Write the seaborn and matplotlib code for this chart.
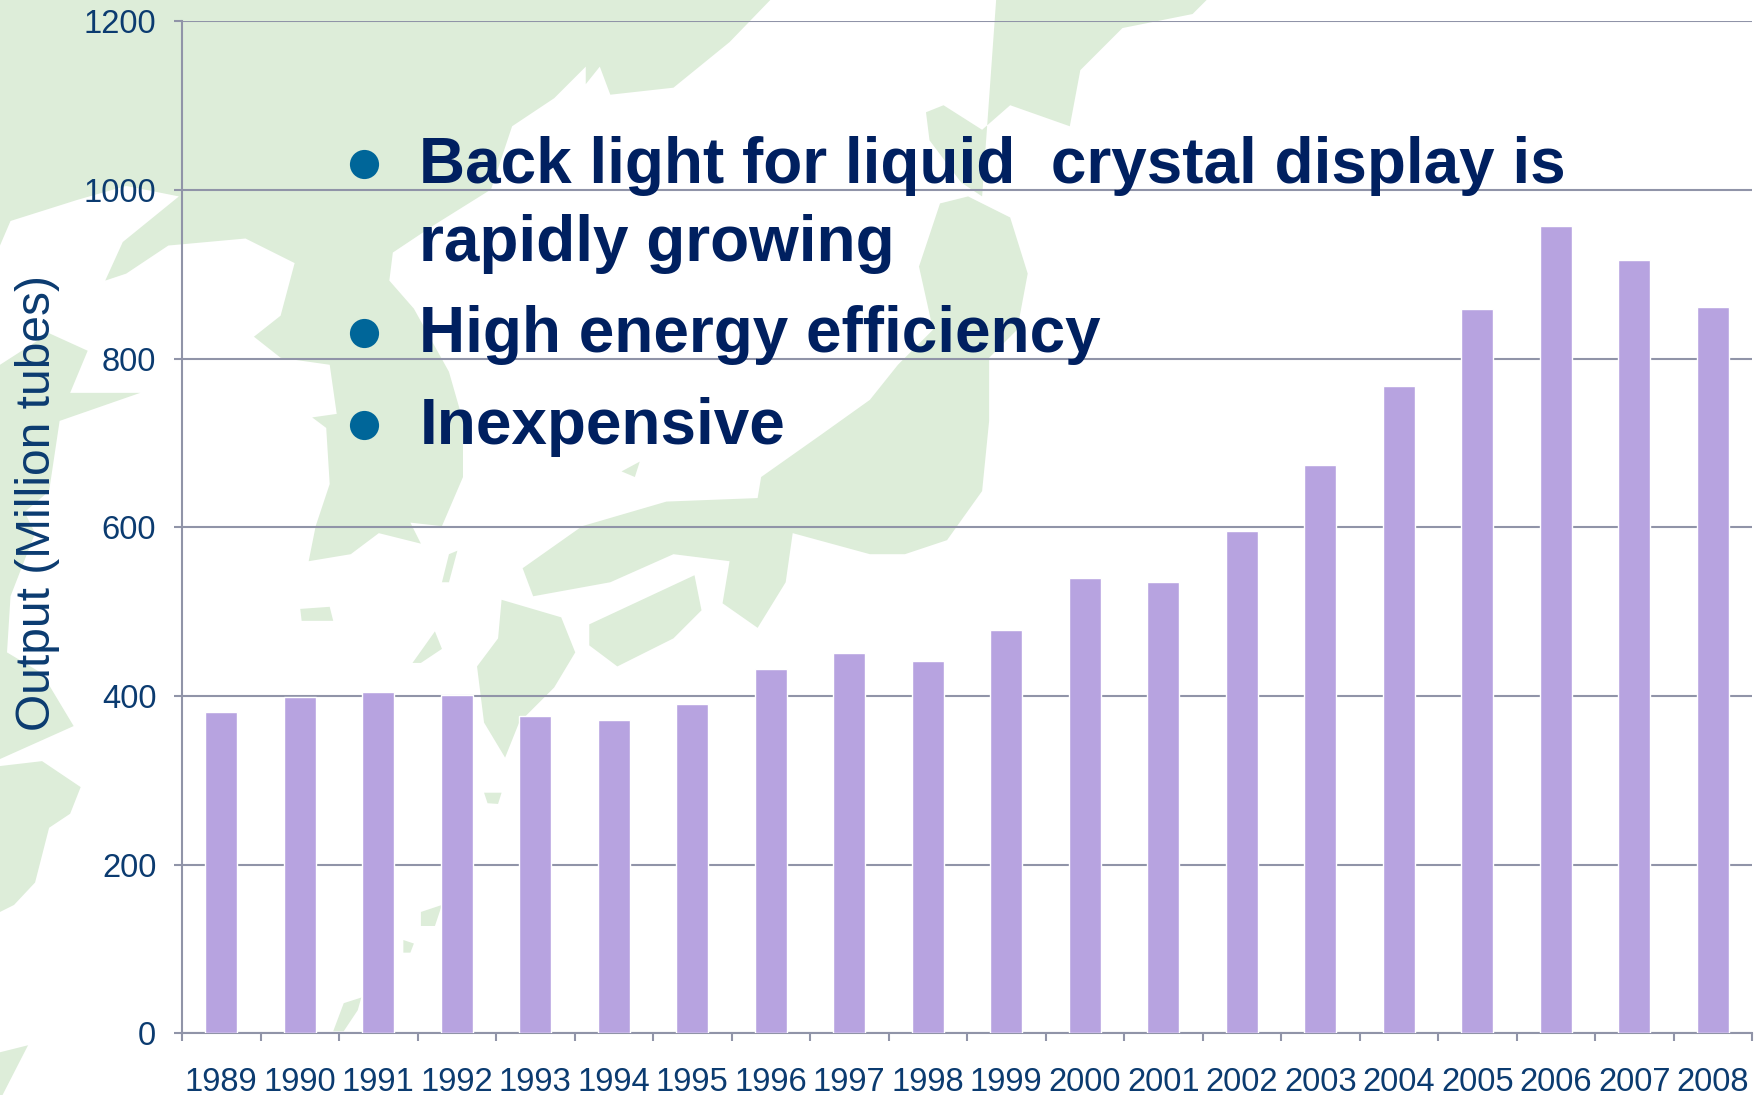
import matplotlib
matplotlib.use("Agg")
import matplotlib.pyplot as plt
import seaborn as sns
import pandas as pd

years = ["1989","1990","1991","1992","1993","1994","1995","1996","1997","1998",
         "1999","2000","2001","2002","2003","2004","2005","2006","2007","2008"]
output = [381,399,405,401,376,372,390,432,451,442,478,540,535,596,674,768,859,957,917,861]
y_ticks = [0,200,400,600,800,1000,1200]
y_label = "Output (Million tubes)"
bullets = ["Back light for liquid  crystal display is\nrapidly growing", "High energy efficiency", "Inexpensive"]

W, H = 1763, 1095
sns.set_theme(style="white")
plt.rcParams["font.family"] = ["Liberation Sans", "DejaVu Sans"]
TXT = "#0B3B70"; GRID = "#9094A8"; BAR = "#B7A3E0"; LAND = "#DDEDD9"; NAVY = "#002060"; DOT = "#006699"

fig = plt.figure(figsize=(W/100, H/100), dpi=100, facecolor="white")

# decorative background map (scale: zoom px -> figure px)
bg = fig.add_axes([0, 0, 1, 1], zorder=0)
bg.set_xlim(0, W); bg.set_ylim(H, 0); bg.axis("off")
k = 1/1.4255
land = [
 # mainland + Korea
 [(0,0),(1098,0),(1040,60),(960,125),(870,135),(855,95),(835,120),(835,95),(790,140),(730,180),(700,270),
  (620,320),(560,360),(555,400),(590,440),(640,530),(660,600),(660,680),(630,750),(585,745),(600,775),
  (540,760),(500,790),(440,800),(450,750),(470,690),(465,610),(445,595),(480,590),(470,520),(400,510),
  (362,480),(400,450),(420,375),(350,340),(240,350),(180,390),(150,400),(175,345),(255,280),(180,265),
  (110,285),(15,315),(0,350)],
 # Shandong
 [(0,520),(70,475),(125,500),(100,560),(200,560),(85,600),(70,700),(0,760)],
 # central China coast
 [(0,660),(50,760),(15,850),(10,930),(60,960),(105,1035),(0,1082)],
 [(0,1092),(60,1085),(115,1122),(100,1160),(70,1180),(50,1258),(20,1290),(0,1300)],
 [(0,1500),(40,1490),(0,1568)],
 # Hokkaido + Sakhalin top
 [(1420,0),(1720,0),(1700,20),(1600,40),(1540,100),(1525,180),(1440,150),(1400,185),(1345,150),(1320,160),
  (1325,200),(1370,260),(1400,280)],
 # Honshu
 [(1340,290),(1380,280),(1440,310),(1465,390),(1450,470),(1410,510),(1410,600),(1400,700),(1350,770),
  (1290,790),(1240,790),(1130,760),(1120,830),(1080,895),(1030,860),(1040,800),(960,790),(870,830),
  (760,850),(745,810),(830,750),(950,715),(1080,710),(1085,680),(1170,620),(1240,570),(1280,520),(1330,470),
  (1310,380)],
 # Shikoku
 [(840,890),(990,820),(1000,870),(960,910),(880,950),(840,920)],
 # Kyushu
 [(715,855),(800,880),(820,930),(790,980),(740,1030),(720,1080),(690,1030),(680,950),(710,910)],
 # small islands
 [(428,868),(470,865),(475,885),(430,885)],
 [(600,1300),(630,1290),(620,1320),(600,1320)],
 [(575,1340),(590,1345),(585,1358),(575,1358)],
 [(475,1470),(490,1430),(515,1422),(510,1440),(490,1470)],
 [(690,1130),(715,1130),(710,1146),(695,1145)],
 [(630,830),(640,790),(652,785),(640,830)],
 [(588,945),(620,900),(630,925),(600,945)],
 [(886,672),(912,658),(905,680)],
]
for p in land:
    bg.fill([x*k for x, _ in p], [y*k for _, y in p], color=LAND, lw=0)

# chart
L, R, T, B = 182, 1752, 21.3, 1033.3
ax = fig.add_axes([L/W, 1-B/H, (R-L)/W, (B-T)/H], zorder=1)
ax.patch.set_alpha(0)
df = pd.DataFrame({"year": years, "output": output})
sns.barplot(data=df, x="year", y="output", color=BAR, saturation=1, width=0.41, ax=ax, zorder=3)
ax.set_xlim(-0.5, len(years)-0.5)
ax.set_ylim(0, 1200)
ax.set_yticks(y_ticks)
ax.set_xticks([i-0.5 for i in range(len(years)+1)])
ax.set_xticklabels([])
ax.set_xticks(range(len(years)), labels=years, minor=True)
ax.tick_params(axis="x", which="major", length=5.5, width=1.5, color=GRID, direction="out", bottom=True)
ax.tick_params(axis="x", which="minor", length=0, labelsize=23.6, labelcolor=TXT, pad=24, bottom=True)
ax.tick_params(axis="y", length=5.5, width=1.5, color=GRID, labelsize=23.6, labelcolor=TXT, pad=13, left=True)
ax.grid(axis="y", color=GRID, lw=1.5, zorder=1)
ax.grid(axis="x", visible=False)
ax.set_axisbelow(True)
for s in ["top", "right"]:
    ax.spines[s].set_visible(False)
for s in ["left", "bottom"]:
    ax.spines[s].set_color(GRID); ax.spines[s].set_linewidth(1.5)
ax.set_xlabel("")
ax.set_ylabel("")
fig.text(38/W, 1-503/H, y_label, rotation=90, color=TXT, fontsize=34.5, ha="center", va="center", zorder=5)

# overlay with bullets
ov = fig.add_axes([0, 0, 1, 1], zorder=2)
ov.set_xlim(0, 1568); ov.set_ylim(974, 0); ov.axis("off"); ov.patch.set_alpha(0)
for txt, yb, yd in zip(bullets, [163, 313, 395], [146, 296, 378]):
    ov.plot([324], [yd], "o", color=DOT, ms=21, mew=0)
    ov.text(373, yb, txt.split("\n")[0], color=NAVY, fontsize=46, fontweight="bold", va="baseline")
    if "\n" in txt:
        ov.text(373, yb+69, txt.split("\n")[1], color=NAVY, fontsize=46, fontweight="bold", va="baseline")

fig.savefig("out.png", dpi=100, facecolor="white")
